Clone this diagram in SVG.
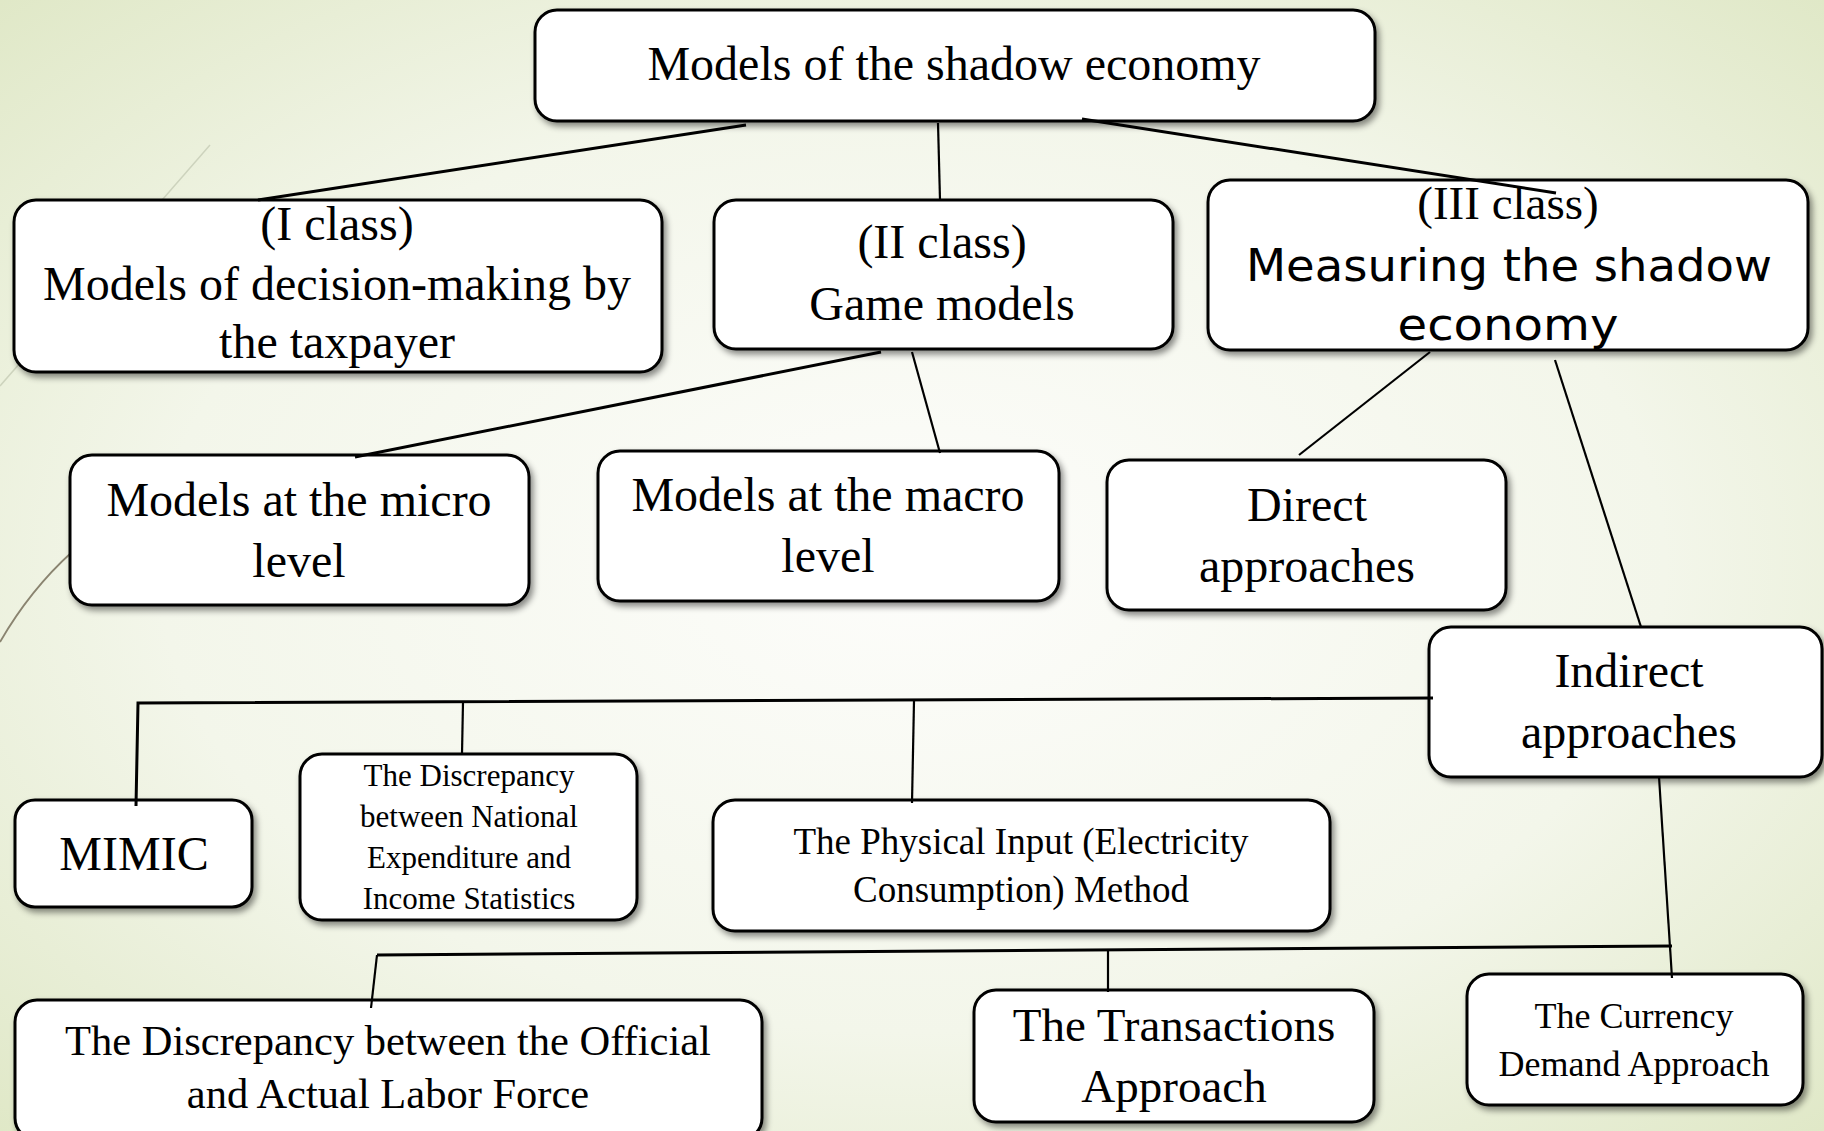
<svg xmlns="http://www.w3.org/2000/svg" width="1824" height="1131" viewBox="0 0 1824 1131">
<defs>
<radialGradient id="bg" cx="0.5" cy="0.5" r="0.75">
<stop offset="0" stop-color="#fdfdfb"/>
<stop offset="0.55" stop-color="#f3f6ea"/>
<stop offset="1" stop-color="#dde6c2"/>
</radialGradient>
<filter id="sh" x="-10%" y="-10%" width="120%" height="130%">
<feDropShadow dx="3" dy="4" stdDeviation="3" flood-color="#000" flood-opacity="0.45"/>
</filter>
</defs>
<style>
.box{fill:#fff;stroke:#000;stroke-width:3;filter:url(#sh)}
.t{font-family:"Liberation Serif","Times New Roman",serif;fill:#000;text-anchor:middle}
.g{font-family:"DejaVu Sans","Liberation Sans",sans-serif;fill:#000;text-anchor:middle}
.c{fill:none;stroke:#000;stroke-width:3;stroke-linecap:butt}
.c2{fill:none;stroke:#000;stroke-width:2.2}
</style>
<rect width="1824" height="1131" fill="url(#bg)"/>
<g id="decor">
<line x1="210" y1="145" x2="0" y2="386" stroke="#cdd3bd" stroke-width="1.5"/>
<path d="M0,642 Q30,590 72,552 L140,470" fill="none" stroke="#8a8470" stroke-width="1.8"/>
</g>
<g id="n-top"><rect class="box" x="535" y="10" width="840" height="111" rx="22"/>
<text class="t" x="954" y="80" font-size="48">Models of the shadow economy</text></g>
<g id="n-class1"><rect class="box" x="14" y="200" width="648" height="172" rx="22"/>
<text class="t" x="337" y="240" font-size="48">(I class)</text>
<text class="t" x="337" y="300" font-size="48">Models of decision-making by</text>
<text class="t" x="337" y="358" font-size="48">the taxpayer</text></g>
<g id="n-class2"><rect class="box" x="714" y="200" width="459" height="149" rx="22"/>
<text class="t" x="942" y="258" font-size="48">(II class)</text>
<text class="t" x="942" y="320" font-size="48">Game models</text></g>
<g id="n-class3"><rect class="box" x="1208" y="180" width="600" height="170" rx="22"/>
<text class="t" x="1508" y="219" font-size="47">(III class)</text>
<text class="g" x="1509" y="281" font-size="44" textLength="526" lengthAdjust="spacingAndGlyphs">Measuring the shadow</text>
<text class="g" x="1508" y="340" font-size="44" textLength="221" lengthAdjust="spacingAndGlyphs">economy</text></g>
<g id="n-micro"><rect class="box" x="70" y="455" width="459" height="150" rx="22"/>
<text class="t" x="299" y="516" font-size="48">Models at the micro</text>
<text class="t" x="299" y="577" font-size="48">level</text></g>
<g id="n-macro"><rect class="box" x="598" y="451" width="461" height="150" rx="22"/>
<text class="t" x="828" y="511" font-size="48">Models at the macro</text>
<text class="t" x="828" y="572" font-size="48">level</text></g>
<g id="n-direct"><rect class="box" x="1107" y="460" width="399" height="150" rx="22"/>
<text class="t" x="1307" y="521" font-size="48">Direct</text>
<text class="t" x="1307" y="582" font-size="48">approaches</text></g>
<g id="n-indirect"><rect class="box" x="1429" y="627" width="393" height="150" rx="22"/>
<text class="t" x="1629" y="687" font-size="48">Indirect</text>
<text class="t" x="1629" y="748" font-size="48">approaches</text></g>
<g id="n-mimic"><rect class="box" x="15" y="800" width="237" height="107" rx="20"/>
<text class="t" x="134" y="870" font-size="48">MIMIC</text></g>
<g id="n-national"><rect class="box" x="300" y="754" width="337" height="166" rx="22"/>
<text class="t" x="469" y="786" font-size="31">The Discrepancy</text>
<text class="t" x="469" y="827" font-size="31">between National</text>
<text class="t" x="469" y="868" font-size="31">Expenditure and</text>
<text class="t" x="469" y="909" font-size="31">Income Statistics</text></g>
<g id="n-physical"><rect class="box" x="713" y="800" width="617" height="131" rx="22"/>
<text class="t" x="1021" y="854" font-size="37">The Physical Input (Electricity</text>
<text class="t" x="1021" y="902" font-size="37">Consumption) Method</text></g>
<g id="n-labor"><rect class="box" x="15" y="1000" width="747" height="140" rx="22"/>
<text class="t" x="388" y="1055" font-size="42.5">The Discrepancy between the Official</text>
<text class="t" x="388" y="1108" font-size="42.5">and Actual Labor Force</text></g>
<g id="n-transactions"><rect class="box" x="974" y="990" width="400" height="132" rx="22"/>
<text class="t" x="1174" y="1041" font-size="47">The Transactions</text>
<text class="t" x="1174" y="1102" font-size="47">Approach</text></g>
<g id="n-currency"><rect class="box" x="1467" y="974" width="336" height="131" rx="22"/>
<text class="t" x="1634" y="1028" font-size="36">The Currency</text>
<text class="t" x="1634" y="1076" font-size="36">Demand Approach</text></g>
<g id="connectors">
<line class="c" x1="746" y1="125" x2="258" y2="200"/>
<line class="c2" x1="938" y1="123" x2="940" y2="200"/>
<line class="c" x1="1082" y1="119" x2="1556" y2="193"/>
<line class="c" x1="881" y1="352" x2="355" y2="457"/>
<line class="c2" x1="912" y1="352" x2="940" y2="453"/>
<line class="c2" x1="1430" y1="352" x2="1299" y2="455"/>
<line class="c2" x1="1555" y1="360" x2="1641" y2="627"/>
<polyline class="c" points="1433,698 138,703 136,806"/>
<line class="c2" x1="463" y1="702" x2="462" y2="754"/>
<line class="c2" x1="914" y1="701" x2="912" y2="803"/>
<line class="c2" x1="1659" y1="777" x2="1672" y2="978"/>
<line class="c" x1="1672" y1="946" x2="377" y2="955"/>
<line class="c2" x1="377" y1="955" x2="371" y2="1008"/>
<line class="c2" x1="1108" y1="950" x2="1108" y2="992"/>
</g>
</svg>
